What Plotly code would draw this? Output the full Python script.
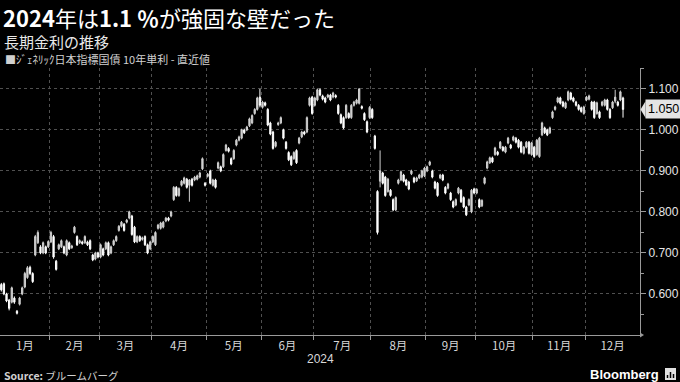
import plotly.graph_objects as go

# ---------------- data ----------------
month_labels = ["1月", "2月", "3月", "4月", "5月", "6月", "7月", "8月", "9月", "10月", "11月", "12月"]
month_trading_days = [19, 19, 20, 21, 21, 20, 22, 21, 19, 22, 20, 21]
ytick_values = [0.6, 0.7, 0.8, 0.9, 1.0, 1.1]
year_label = "2024"

# (open, high, low, close) per trading day
jan = [(0.623,0.627,0.606,0.610),(0.625,0.628,0.597,0.600),(0.600,0.603,0.580,0.583),(0.585,0.588,0.560,0.565),
       (0.580,0.618,0.577,0.615),(0.590,0.594,0.576,0.580),(0.558,0.561,0.550,0.553),(0.575,0.593,0.572,0.590),
       (0.600,0.618,0.597,0.615),(0.617,0.654,0.614,0.650),(0.640,0.668,0.637,0.664),(0.665,0.669,0.646,0.650),
       (0.650,0.653,0.627,0.630),(0.695,0.744,0.692,0.740),(0.725,0.755,0.722,0.750),(0.715,0.719,0.697,0.700),
       (0.700,0.728,0.697,0.725),(0.715,0.718,0.697,0.700),(0.715,0.731,0.712,0.728)]
feb = [(0.727,0.754,0.724,0.750),(0.740,0.744,0.686,0.690),(0.680,0.683,0.657,0.660),(0.710,0.723,0.707,0.720),
       (0.715,0.733,0.712,0.730),(0.715,0.718,0.697,0.700),(0.695,0.733,0.692,0.730),(0.725,0.728,0.707,0.710),
       (0.713,0.720,0.710,0.717),(0.750,0.766,0.747,0.763),(0.740,0.743,0.717,0.720),(0.725,0.733,0.722,0.730),
       (0.727,0.730,0.720,0.723),(0.725,0.743,0.722,0.740),(0.727,0.730,0.717,0.720),(0.730,0.733,0.707,0.710),
       (0.695,0.698,0.680,0.683),(0.685,0.703,0.682,0.700),(0.700,0.703,0.687,0.690)]
mar = [(0.690,0.723,0.687,0.720),(0.710,0.713,0.692,0.695),(0.710,0.728,0.707,0.725),(0.725,0.728,0.692,0.695),
       (0.700,0.718,0.697,0.715),(0.720,0.733,0.717,0.730),(0.730,0.743,0.727,0.740),(0.755,0.768,0.752,0.765),
       (0.765,0.778,0.762,0.775),(0.770,0.773,0.752,0.755),(0.775,0.783,0.772,0.780),(0.785,0.803,0.782,0.800),
       (0.790,0.793,0.742,0.745),(0.763,0.766,0.724,0.727),(0.727,0.743,0.724,0.740),(0.740,0.743,0.727,0.730),
       (0.733,0.740,0.730,0.737),(0.740,0.743,0.717,0.720),(0.720,0.723,0.697,0.700),(0.710,0.730,0.707,0.727)]
apr = [(0.727,0.743,0.724,0.740),(0.720,0.753,0.717,0.750),(0.760,0.771,0.757,0.768),(0.760,0.776,0.757,0.773),
       (0.763,0.778,0.760,0.775),(0.778,0.788,0.775,0.785),(0.785,0.788,0.777,0.780),(0.790,0.803,0.787,0.800),
       (0.830,0.863,0.827,0.860),(0.860,0.863,0.837,0.840),(0.840,0.860,0.837,0.857),(0.865,0.878,0.862,0.875),
       (0.870,0.886,0.867,0.883),(0.880,0.883,0.857,0.860),(0.865,0.880,0.825,0.878),(0.880,0.883,0.862,0.865),
       (0.878,0.888,0.875,0.885),(0.880,0.891,0.877,0.888),(0.885,0.898,0.882,0.895),(0.905,0.933,0.902,0.930),
       (0.870,0.873,0.862,0.865)]
may = [(0.887,0.895,0.884,0.892),(0.900,0.903,0.867,0.870),(0.865,0.881,0.862,0.878),(0.878,0.881,0.857,0.860),
       (0.907,0.923,0.904,0.920),(0.910,0.913,0.897,0.900),(0.910,0.943,0.907,0.940),(0.950,0.966,0.947,0.963),
       (0.955,0.958,0.945,0.948),(0.930,0.933,0.914,0.917),(0.930,0.953,0.927,0.950),(0.963,0.978,0.960,0.975),
       (0.975,0.986,0.972,0.983),(0.980,1.003,0.977,1.000),(1.000,1.003,0.990,0.993),(1.000,1.010,0.997,1.007),
       (1.010,1.030,1.007,1.027),(1.017,1.038,1.014,1.035),(1.040,1.053,1.037,1.050),(1.050,1.081,1.047,1.078),
       (1.080,1.100,1.055,1.060)]
jun = [(1.055,1.071,1.052,1.068),(1.066,1.069,1.057,1.060),(1.050,1.053,1.009,1.012),(1.017,1.020,0.987,0.990),
       (0.995,0.998,0.952,0.955),(0.960,0.973,0.957,0.970),(1.013,1.020,1.010,1.017),(1.017,1.033,1.014,1.030),
       (1.000,1.003,0.977,0.980),(0.970,0.973,0.952,0.955),(0.945,0.948,0.924,0.927),(0.935,0.938,0.912,0.915),
       (0.930,0.948,0.927,0.945),(0.950,0.953,0.917,0.920),(0.968,0.983,0.965,0.980),(0.983,0.998,0.980,0.995),
       (0.995,0.998,0.987,0.990),(0.995,1.033,0.992,1.030),(1.060,1.081,1.057,1.078),(1.080,1.083,1.037,1.040)]
jul = [(1.060,1.081,1.057,1.078),(1.073,1.101,1.070,1.098),(1.098,1.101,1.082,1.085),(1.083,1.086,1.072,1.075),
       (1.078,1.081,1.065,1.068),(1.080,1.088,1.077,1.085),(1.085,1.088,1.070,1.073),(1.080,1.093,1.077,1.090),
       (1.084,1.087,1.077,1.080),(1.060,1.063,1.037,1.040),(1.037,1.040,1.014,1.017),(1.030,1.033,1.002,1.005),
       (1.030,1.063,1.027,1.060),(1.040,1.043,1.027,1.030),(1.030,1.063,1.027,1.060),(1.060,1.071,1.057,1.068),
       (1.065,1.076,1.062,1.073),(1.065,1.102,1.062,1.100),(1.057,1.060,1.050,1.053),(1.040,1.043,1.022,1.025),
       (1.020,1.023,0.992,0.995),(1.030,1.058,1.027,1.055)]
aug = [(1.050,1.053,1.027,1.030),(0.985,0.988,0.952,0.955),(0.850,0.853,0.745,0.750),(0.875,0.950,0.860,0.900),
       (0.895,0.898,0.867,0.870),(0.885,0.888,0.837,0.840),(0.850,0.883,0.847,0.880),(0.853,0.856,0.837,0.840),
       (0.830,0.833,0.802,0.805),(0.805,0.838,0.802,0.835),(0.870,0.881,0.867,0.878),(0.878,0.901,0.875,0.898),
       (0.890,0.893,0.872,0.875),(0.878,0.881,0.863,0.866),(0.873,0.876,0.853,0.856),(0.893,0.903,0.890,0.900),
       (0.883,0.886,0.870,0.873),(0.876,0.886,0.873,0.883),(0.883,0.893,0.880,0.890),(0.885,0.903,0.882,0.900),
       (0.888,0.910,0.885,0.907)]
sep = [(0.900,0.913,0.897,0.910),(0.915,0.925,0.912,0.922),(0.900,0.903,0.882,0.885),(0.873,0.876,0.855,0.858),
       (0.870,0.873,0.837,0.840),(0.883,0.893,0.880,0.890),(0.890,0.893,0.875,0.878),(0.860,0.863,0.843,0.846),
       (0.858,0.871,0.855,0.868),(0.846,0.849,0.827,0.830),(0.825,0.828,0.809,0.812),(0.817,0.833,0.814,0.830),
       (0.846,0.861,0.843,0.858),(0.853,0.856,0.822,0.825),(0.835,0.838,0.809,0.812),(0.812,0.815,0.790,0.793),
       (0.817,0.833,0.814,0.830),(0.800,0.856,0.797,0.853),(0.856,0.859,0.843,0.846)]
oct_ = [(0.846,0.858,0.843,0.855),(0.830,0.833,0.809,0.812),(0.815,0.831,0.812,0.828),(0.870,0.886,0.867,0.883),
        (0.907,0.925,0.904,0.922),(0.920,0.935,0.917,0.932),(0.932,0.935,0.919,0.922),(0.940,0.959,0.937,0.956),
        (0.946,0.949,0.937,0.940),(0.956,0.973,0.953,0.970),(0.958,0.961,0.947,0.950),(0.946,0.961,0.943,0.958),
        (0.968,0.983,0.965,0.980),(0.963,0.966,0.953,0.956),(0.975,0.986,0.972,0.983),(0.980,0.983,0.967,0.970),
        (0.975,0.978,0.955,0.958),(0.970,0.973,0.943,0.946),(0.943,0.961,0.940,0.958),(0.958,0.973,0.955,0.970),
        (0.970,0.973,0.940,0.943),(0.940,0.971,0.937,0.968)]
nov = [(0.958,0.961,0.932,0.935),(0.940,0.978,0.937,0.975),(0.935,0.983,0.932,0.980),(0.988,1.020,0.985,1.017),
       (1.005,1.008,0.990,0.993),(1.000,1.003,0.985,0.988),(0.993,1.008,0.990,1.005),(1.030,1.047,1.027,1.044),
       (1.050,1.059,1.047,1.056),(1.068,1.081,1.065,1.078),(1.078,1.081,1.062,1.065),(1.068,1.071,1.055,1.058),
       (1.054,1.069,1.051,1.066),(1.073,1.096,1.070,1.093),(1.090,1.093,1.072,1.075),(1.078,1.081,1.067,1.070),
       (1.068,1.071,1.057,1.060),(1.060,1.063,1.047,1.050),(1.054,1.057,1.042,1.045),(1.040,1.059,1.037,1.056)]
dec = [(1.073,1.083,1.070,1.080),(1.075,1.086,1.072,1.083),(1.068,1.071,1.047,1.050),(1.068,1.071,1.027,1.030),
       (1.040,1.069,1.037,1.066),(1.044,1.047,1.027,1.030),(1.060,1.071,1.057,1.068),(1.060,1.076,1.057,1.073),
       (1.073,1.076,1.047,1.050),(1.050,1.053,1.027,1.030),(1.054,1.071,1.051,1.068),(1.070,1.098,1.065,1.080),
       (1.068,1.071,1.057,1.060),(1.073,1.096,1.070,1.093),(1.078,1.081,1.030,1.050)]

# ---------------- build ----------------
ohlc = jan + feb + mar + apr + may + jun + jul + aug + sep + oct_ + nov + dec
day_index = list(range(len(ohlc)))
open_ = [r[0] for r in ohlc]
high = [r[1] for r in ohlc]
low = [r[2] for r in ohlc]
close = [r[3] for r in ohlc]

cum = [0]
for d in month_trading_days:
    cum.append(cum[-1] + d)
total_days = cum[-1]
boundaries = [c - 0.5 for c in cum[1:-1]]
centers = [cum[i] + month_trading_days[i] / 2 - 0.5 for i in range(12)]

W, H = 680, 382
ML, MR, MT, MB = 0, 40, 68, 47
PW, PH = W - ML - MR, H - MT - MB


def px_x(px):
    return (px - ML) / PW


def px_y(py):
    return (H - MB - py) / PH


GRID = "#505050"
AXIS = "#9a9a9a"
TXT = "#d8d8d8"
JP = "Noto Sans CJK JP"

fig = go.Figure()
fig.add_trace(go.Candlestick(
    x=day_index, open=open_, high=high, low=low, close=close,
    increasing=dict(line=dict(color="#d0d0d0", width=1), fillcolor="#d0d0d0"),
    decreasing=dict(line=dict(color="#ffffff", width=1), fillcolor="#ffffff"),
    whiskerwidth=0, showlegend=False, hoverinfo="skip",
))

minor_y = [v + 0.05 for v in [0.5] + ytick_values]

fig.update_layout(
    width=W, height=H, margin=dict(l=ML, r=MR, t=MT, b=MB),
    paper_bgcolor="#000000", plot_bgcolor="#000000",
    showlegend=False,
    xaxis=dict(
        range=[-0.5, total_days - 0.5], tickmode="array", tickvals=centers, ticktext=month_labels,
        ticks="", showgrid=False, zeroline=False, showline=True, linecolor=AXIS, linewidth=1,
        tickfont=dict(family=JP, size=11.5, color=TXT), rangeslider=dict(visible=False), automargin=False,
        minor=dict(tickmode="array", tickvals=boundaries, ticks="outside", ticklen=4, tickcolor=AXIS,
                   showgrid=True, gridcolor=GRID, griddash="dot", gridwidth=1),
    ),
    yaxis=dict(
        side="right", range=[0.5, 1.151], tickmode="array", tickvals=ytick_values,
        ticktext=[f"{v:.3f}" for v in ytick_values], ticks="outside", ticklen=5, tickcolor=AXIS,
        showline=True, linecolor=AXIS, linewidth=1, showgrid=True, gridcolor=GRID, griddash="dot",
        zeroline=False, automargin=False,
        tickfont=dict(family="Liberation Sans", size=12, color="#e6e6e6"),
        minor=dict(tickmode="array", tickvals=minor_y, ticks="outside", ticklen=3, tickcolor=AXIS, showgrid=False),
    ),
)

ann = [
    dict(text="<b>2024</b>年は<b>1.1 ％</b>が強固な壁だった", x=px_x(2), y=px_y(16.5),
         font=dict(family=JP, size=22, color="#ffffff")),
    dict(text="長期金利の推移", x=px_x(3), y=px_y(41.5), font=dict(family=JP, size=15, color="#e8e8e8")),
    dict(text="■ｼﾞｪﾈﾘｯｸ日本指標国債 10年単利 - 直近値", x=px_x(4), y=px_y(59),
         font=dict(family=JP, size=11, color="#d0d0d0")),
    dict(text="<b>Source:</b> ブルームバーグ", x=px_x(3), y=px_y(375), font=dict(family=JP, size=10.5, color="#d0d0d0")),
]
for a in ann:
    fig.add_annotation(xref="paper", yref="paper", xanchor="left", yanchor="middle", showarrow=False,
                       borderpad=0, **a)

fig.add_annotation(text=year_label, xref="paper", yref="paper", x=px_x(320), y=px_y(359),
                   xanchor="center", yanchor="middle", showarrow=False,
                   font=dict(family="Liberation Sans", size=12, color=TXT))
fig.add_annotation(text="<b>Bloomberg</b>", xref="paper", yref="paper", x=px_x(661), y=px_y(374),
                   xanchor="right", yanchor="middle", showarrow=False,
                   font=dict(family="Liberation Sans", size=13, color="#ffffff"))
fig.add_shape(type="rect", xref="paper", yref="paper", x0=px_x(665), x1=px_x(676), y0=px_y(380), y1=px_y(368),
              fillcolor="#e0e0e0", line=dict(width=0))
for bx, top in [(667.5, 375), (670.5, 372), (673.5, 374)]:
    fig.add_shape(type="line", xref="paper", yref="paper", x0=px_x(bx), x1=px_x(bx), y0=px_y(378), y1=px_y(top),
                  line=dict(color="#000000", width=1.5))

# last value tag
last = close[-1]
fig.add_annotation(text=f"{last:.3f}", xref="paper", yref="y", x=px_x(645), y=last,
                   xanchor="left", yanchor="middle", showarrow=False, bgcolor="#e4e4e4", borderpad=2,
                   font=dict(family="Liberation Sans", size=12.5, color="#000000"))
fig.add_shape(type="path", xref="paper", yref="y",
              path=f"M {px_x(640.5)} {last} L {px_x(645.5)} {last + 0.02} L {px_x(645.5)} {last - 0.02} Z",
              fillcolor="#e4e4e4", line=dict(width=0))
# arrow at end of x axis
fig.add_shape(type="path", xref="paper", yref="paper",
              path=f"M {px_x(640)} {px_y(332.5)} L {px_x(644)} {px_y(335)} L {px_x(640)} {px_y(337.5)} Z",
              fillcolor=AXIS, line=dict(width=0))

fig.write_html("out.html")
